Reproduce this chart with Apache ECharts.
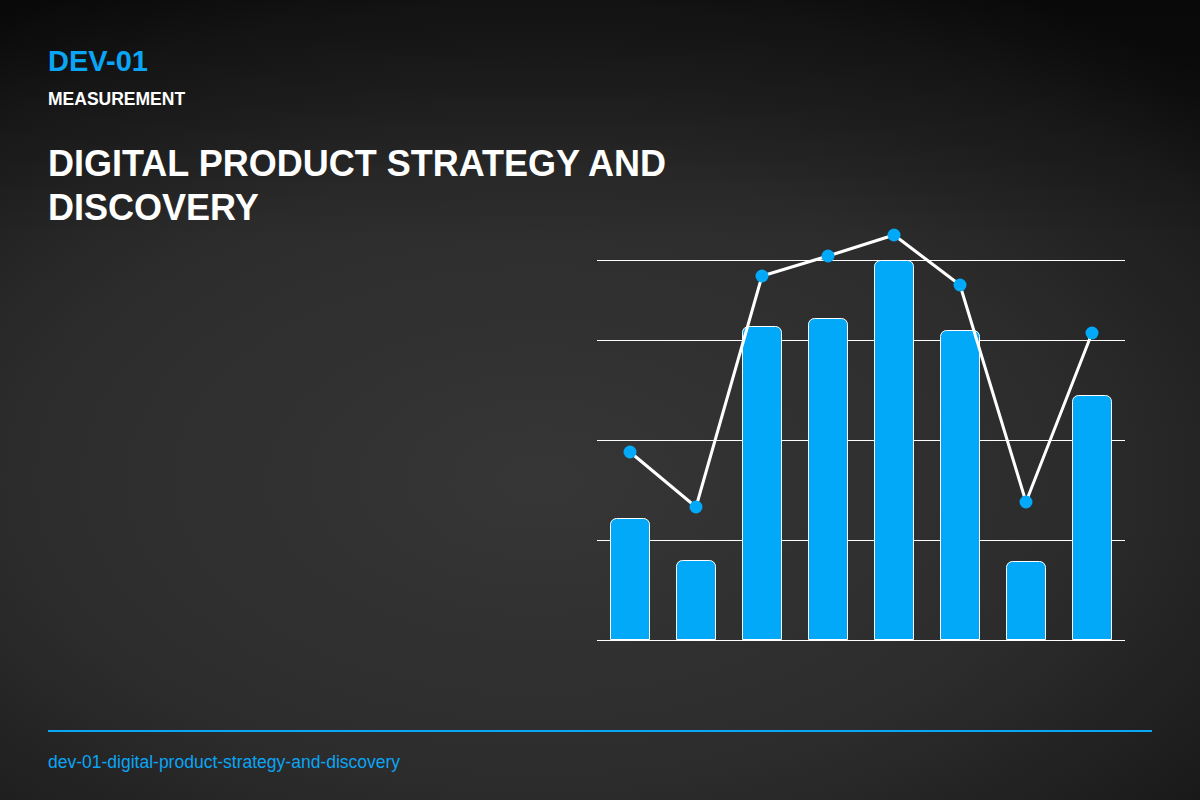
<!DOCTYPE html>
<html><head><meta charset="utf-8">
<script src="https://cdn.jsdelivr.net/npm/echarts@6/dist/echarts.min.js"></script>
<style>
html,body{margin:0;padding:0;width:1200px;height:800px;overflow:hidden;font-family:"Liberation Sans",Arial,sans-serif;}
body{background:radial-gradient(ellipse 80% 70% at 45% 60%, #363636 0%, #2c2c2c 55%, #1c1c1c 85%, #0e0e0e 100%);position:relative;}
#top{position:absolute;left:0;top:0;width:1200px;height:800px;background:linear-gradient(180deg,rgba(0,0,0,0.35) 0%,rgba(0,0,0,0) 30%);}
#chart{position:absolute;left:0;top:0;width:1200px;height:800px;}
.t{position:absolute;left:48px;color:#fff;font-weight:bold;white-space:nowrap;}
</style></head><body>
<div id="top"></div>
<div class="t" style="top:45px;font-size:29px;color:#0aa5f5;">DEV-01</div>
<div class="t" style="top:89px;font-size:17.5px;">MEASUREMENT</div>
<div class="t" style="top:142px;font-size:36px;line-height:44px;">DIGITAL PRODUCT STRATEGY AND<br>DISCOVERY</div>
<div style="position:absolute;left:48px;top:730px;width:1104px;height:2px;background:#0aa5f5;"></div>
<div style="position:absolute;left:48px;top:752px;font-size:17.5px;color:#0aa5f5;">dev-01-digital-product-strategy-and-discovery</div>
<div id="chart"></div>
<script>
const categories=['A','B','C','D','E','F','G','H'];
const barValues=[122,80,314,322,380,310,79,245];
const lineValues=[188,133,364,384,405,355,138,307];
const chart=echarts.init(document.getElementById('chart'),null,{renderer:'canvas'});
chart.setOption({
  backgroundColor:'transparent',
  animation:false,
  grid:{left:597,top:260,width:528,height:380},
  xAxis:{type:'category',data:categories,axisLabel:{show:false},axisTick:{show:false},axisLine:{show:false}},
  yAxis:[
    {type:'value',min:0,max:380,interval:100,axisLabel:{show:false},axisLine:{show:false},axisTick:{show:false},splitLine:{show:false}},
    {type:'value',min:20,max:400,interval:100,position:'left',axisLabel:{show:false},axisLine:{show:false},axisTick:{show:false},
      splitLine:{show:true,lineStyle:{color:'#ffffff',width:1}}}
  ],
  series:[
    {type:'bar',data:barValues,barWidth:40,yAxisIndex:0,itemStyle:{color:'#03a9f9',borderColor:'#ffffff',borderWidth:1,borderRadius:[6,6,0,0]}},
    {type:'line',data:lineValues,yAxisIndex:0,clip:false,symbol:'circle',symbolSize:13,
      lineStyle:{color:'#ffffff',width:3},itemStyle:{color:'#03a9f9'},z:5}
  ]
});
</script>
</body></html>
